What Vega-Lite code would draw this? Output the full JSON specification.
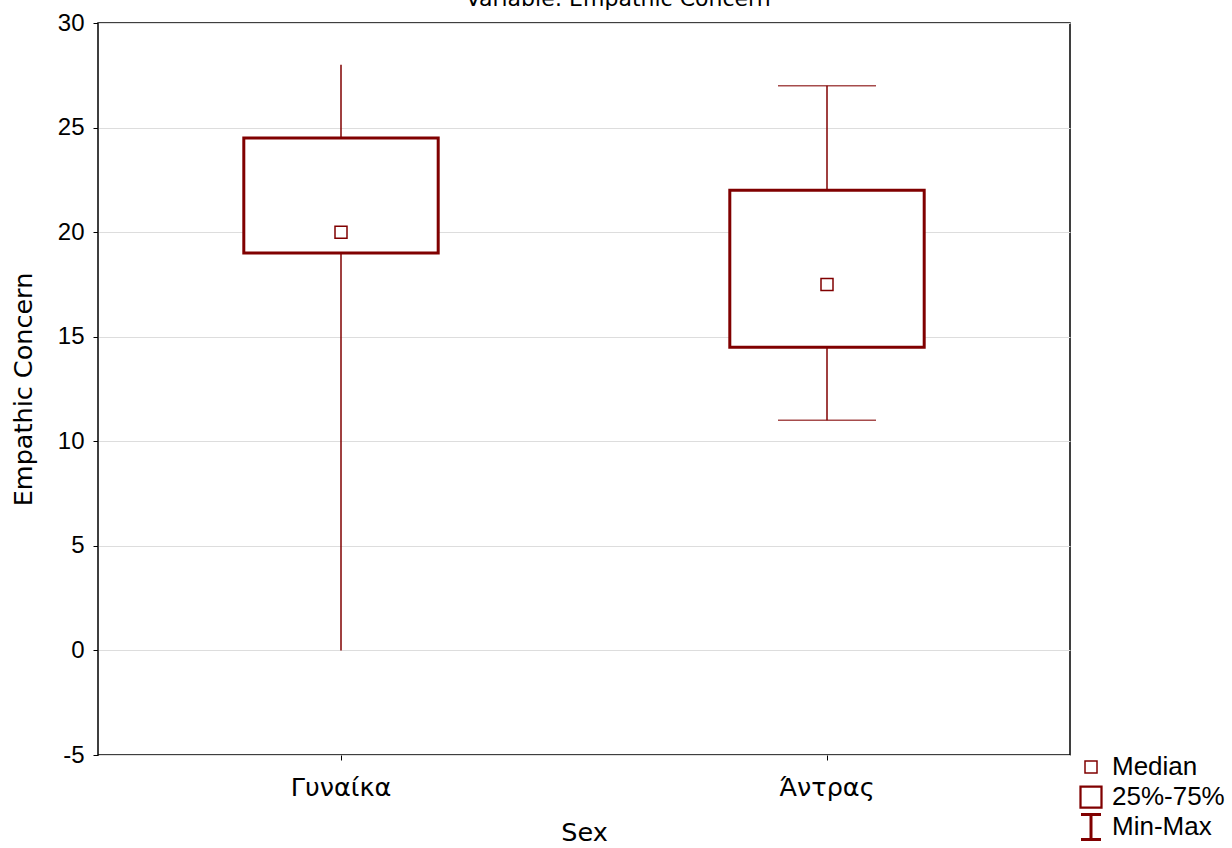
{
  "$schema": "https://vega.github.io/schema/vega-lite/v6.json",
  "autosize": {"type": "none"},
  "padding": {"left": 98, "top": 23, "right": 162, "bottom": 93},
  "width": 972,
  "height": 732,
  "background": "white",
  "title": {"text": "Variable: Empathic Concern", "font": "DejaVu Sans", "fontSize": 22, "fontWeight": "normal", "color": "black", "anchor": "middle", "frame": "bounds", "baseline": "alphabetic", "offset": -17},
  "datasets": {
    "boxes": [
      {"Sex": "Γυναίκα", "min": 0, "q1": 19, "median": 20, "q3": 24.5, "max": 28},
      {"Sex": "Άντρας", "min": 11, "q1": 14.5, "median": 17.5, "q3": 22, "max": 27}
    ],
    "legendItems": [
      {"item": "Median"},
      {"item": "25%-75%"},
      {"item": "Min-Max"}
    ]
  },
  "layer": [
    {
      "data": {"name": "boxes"},
      "mark": {"type": "rule", "color": "#800000", "strokeWidth": 1.5},
      "encoding": {
        "x": {"field": "Sex", "type": "nominal", "sort": ["Γυναίκα", "Άντρας"], "scale": {"paddingInner": 0, "paddingOuter": 0},
          "axis": {"title": "Sex", "labelAngle": 0, "labelFont": "DejaVu Sans", "labelFontSize": 25.5, "labelPadding": 15, "tickSize": 5, "titleFont": "DejaVu Sans", "titleFontSize": 25.5, "titleFontWeight": "normal", "titlePadding": 20, "domain": false, "grid": false}},
        "y": {"field": "min", "type": "quantitative", "scale": {"domain": [-5, 30], "nice": false, "zero": false},
          "axis": {"title": "Empathic Concern", "values": [-5, 0, 5, 10, 15, 20, 25, 30], "labelExpr": "'' + datum.value", "labelFont": "Liberation Sans", "labelFontSize": 24, "labelPadding": 9, "tickSize": 5, "gridColor": "#dddddd", "titleFont": "DejaVu Sans", "titleFontSize": 25.5, "titleFontWeight": "normal", "titlePadding": 21, "domain": false}},
        "y2": {"field": "max"}
      }
    },
    {
      "data": {"name": "boxes"},
      "transform": [{"filter": "datum.Sex === 'Άντρας'"}],
      "mark": {"type": "tick", "color": "#800000", "thickness": 1.5, "size": 98, "orient": "horizontal"},
      "encoding": {
        "x": {"field": "Sex", "type": "nominal", "sort": ["Γυναίκα", "Άντρας"]},
        "y": {"field": "min", "type": "quantitative"}
      }
    },
    {
      "data": {"name": "boxes"},
      "transform": [{"filter": "datum.Sex === 'Άντρας'"}],
      "mark": {"type": "tick", "color": "#800000", "thickness": 1.5, "size": 98, "orient": "horizontal"},
      "encoding": {
        "x": {"field": "Sex", "type": "nominal", "sort": ["Γυναίκα", "Άντρας"]},
        "y": {"field": "max", "type": "quantitative"}
      }
    },
    {
      "data": {"name": "boxes"},
      "mark": {"type": "bar", "fill": "white", "stroke": "#800000", "strokeWidth": 3, "width": {"band": 0.4}},
      "encoding": {
        "x": {"field": "Sex", "type": "nominal", "sort": ["Γυναίκα", "Άντρας"]},
        "y": {"field": "q1", "type": "quantitative"},
        "y2": {"field": "q3"}
      }
    },
    {
      "data": {"name": "boxes"},
      "mark": {"type": "point", "shape": "square", "size": 144, "filled": false, "fill": "white", "color": "#800000", "strokeWidth": 1.5, "opacity": 1},
      "encoding": {
        "x": {"field": "Sex", "type": "nominal", "sort": ["Γυναίκα", "Άντρας"]},
        "y": {"field": "median", "type": "quantitative"}
      }
    },
    {
      "data": {"name": "legendItems"},
      "mark": {"type": "point", "filled": false, "color": "#800000", "opacity": 0, "size": 625},
      "encoding": {
        "shape": {"field": "item", "type": "nominal",
          "scale": {"domain": ["Median", "25%-75%", "Min-Max"], "range": ["M-0.48,-0.48H0.48V0.48H-0.48Z", "M-0.84,-0.84H0.84V0.84H-0.84Z", "M-0.8,-1H0.8M0,-1V1M-0.8,1H0.8"]},
          "legend": {"title": null, "orient": "none", "legendX": 979, "legendY": 730, "clipHeight": 28, "symbolSize": 625, "symbolOpacity": 1, "symbolStrokeColor": "#800000", "symbolFillColor": "transparent", "labelFont": "Liberation Sans", "labelFontSize": 26, "labelColor": "black", "labelOffset": 7, "rowPadding": 2}},
        "strokeWidth": {"field": "item", "type": "nominal", "scale": {"domain": ["Median", "25%-75%", "Min-Max"], "range": [1.5, 3, 1.5]}}
      }
    }
  ],
  "config": {
    "view": {"stroke": "black", "strokeWidth": 1.5},
    "axis": {"domainColor": "black", "tickColor": "black", "labelColor": "black", "titleColor": "black"}
  }
}
